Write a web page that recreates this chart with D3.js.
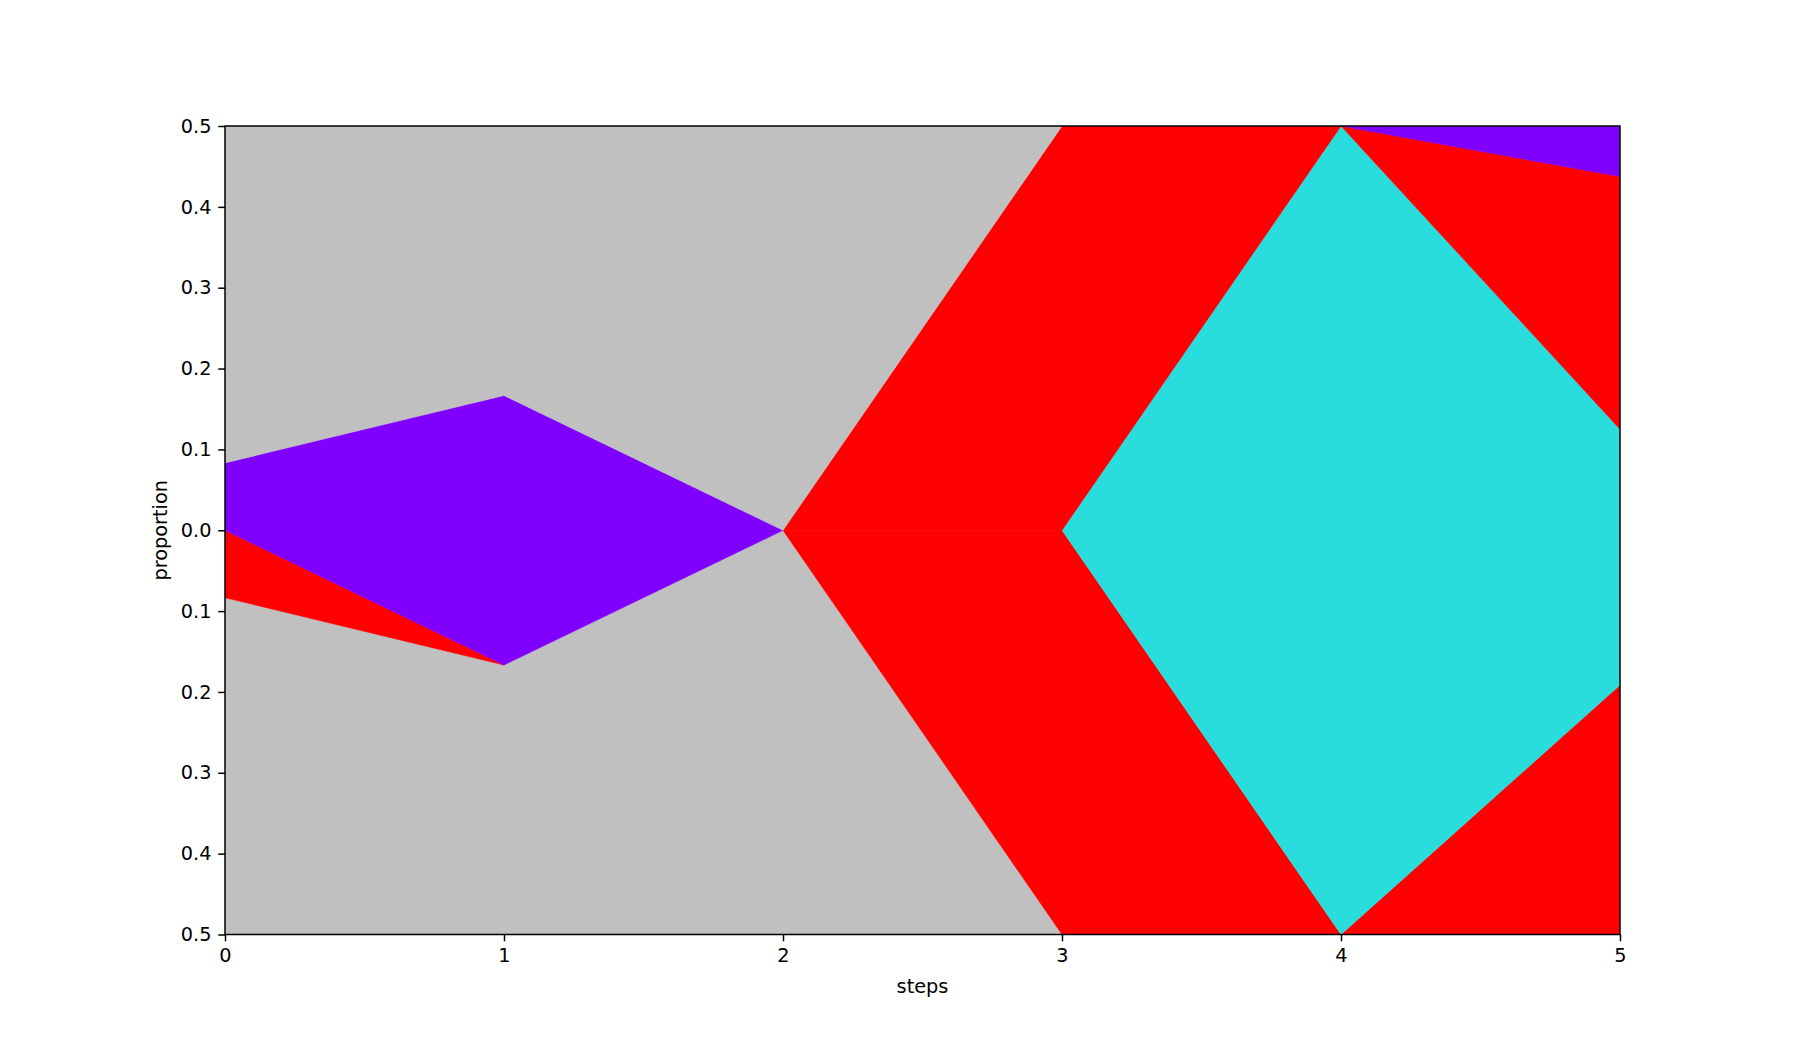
<!DOCTYPE html>
<html>
<head>
  <script src="https://d3js.org/d3.v7.min.js"></script>
  <title>proportion by step</title>
  <style>
  body { margin: 0; background: white; }
  svg text { font-family: "DejaVu Sans", sans-serif; fill: black; }
  </style>
</head>
<body>
<svg id="chart" width="1800" height="1050"></svg>
<script>
// data (stacked bottom -> top, centred on zero)
var steps = [0, 1, 2, 3, 4, 5];
var layerNames = ["greyLow", "redLow", "cyan", "redHigh", "purple", "greyHigh"];
var greyLow  = [5/12, 1/3, 0.5, 0,   0, 0];
var redLow   = [1/12, 0,   0,   0.5, 0, 0.3085];
var cyan     = [0,    0,   0,   0,   1, 0.3165];
var redHigh  = [0,    0,   0,   0.5, 0, 0.3125];
var purple   = [1/12, 1/3, 0,   0,   0, 0.0625];
var greyHigh = [5/12, 1/3, 0.5, 0,   0, 0];
var yTicks = [-0.5, -0.4, -0.3, -0.2, -0.1, 0, 0.1, 0.2, 0.3, 0.4, 0.5];

var colors = {
  greyLow: "#c0c0c0", redLow: "#ff0000", cyan: "#2adddd",
  redHigh: "#ff0000", purple: "#8000ff", greyHigh: "#c0c0c0"
};

var fontPx = "19.3px";
var tickLen = 6.75;
var lw = 1.5;

var margin = {top: 126, right: 180, bottom: 115.5, left: 225},
    width = 1800 - margin.left - margin.right,
    height = 1050 - margin.top - margin.bottom;

var rows = steps.map(function(s, i) {
  return {step: s, greyLow: greyLow[i], redLow: redLow[i], cyan: cyan[i],
          redHigh: redHigh[i], purple: purple[i], greyHigh: greyHigh[i]};
});

var series = d3.stack()
  .keys(layerNames)
  .order(d3.stackOrderNone)
  .offset(d3.stackOffsetSilhouette)(rows);

var xs = d3.scaleLinear().domain([0, 5]).range([0, width]);
var ys = d3.scaleLinear().domain([-0.5, 0.5]).range([height, 0]);

var svg = d3.select("#chart");
var g = svg.append("g")
  .attr("transform", "translate(" + margin.left + "," + margin.top + ")");

g.append("clipPath").attr("id", "clip")
  .append("rect").attr("width", width).attr("height", height);

var area = d3.area()
  .x(function(d) { return xs(d.data.step); })
  .y0(function(d) { return ys(d[0]); })
  .y1(function(d) { return ys(d[1]); });

var plot = g.append("g").attr("clip-path", "url(#clip)");

// draw each layer piece by piece, skipping pieces that are empty at both ends
series.forEach(function(s) {
  for (var i = 0; i < s.length - 1; i++) {
    var a = s[i], b = s[i + 1];
    if (a[1] - a[0] <= 0 && b[1] - b[0] <= 0) continue;
    plot.append("path")
      .attr("d", area([a, b]))
      .attr("fill", colors[s.key])
      .attr("stroke", colors[s.key])
      .attr("stroke-width", 0.6)
      .attr("stroke-linejoin", "round");
  }
});

// faint edge under the upper grey layer
var top = series[series.length - 1];
plot.append("path")
  .attr("d", d3.line()
    .x(function(d) { return xs(d.data.step); })
    .y(function(d) { return ys(d[0]); })(top))
  .attr("fill", "none")
  .attr("stroke", "rgba(90,90,90,0.55)")
  .attr("stroke-width", 1.4);

// axes
var xAxis = g.append("g")
  .attr("transform", "translate(0," + height + ")")
  .call(d3.axisBottom(xs).tickValues(steps).tickFormat(d3.format("d"))
        .tickSize(tickLen).tickPadding(tickLen));
var yAxis = g.append("g")
  .call(d3.axisLeft(ys).tickValues(yTicks)
        .tickFormat(function(d) { return Math.abs(d).toFixed(1); })
        .tickSize(tickLen).tickPadding(tickLen));

[xAxis, yAxis].forEach(function(ax) {
  ax.attr("font-size", null).attr("font-family", null);
  ax.select(".domain").remove();
  ax.selectAll(".tick line").attr("stroke", "black").attr("stroke-width", lw);
  ax.selectAll(".tick text")
    .style("font-family", "DejaVu Sans")
    .style("font-size", fontPx)
    .attr("fill", "black");
});

g.append("rect")
  .attr("width", width).attr("height", height)
  .attr("fill", "none").attr("stroke", "black").attr("stroke-width", lw);

g.append("text")
  .attr("x", width / 2).attr("y", height + 58)
  .attr("text-anchor", "middle")
  .style("font-size", fontPx)
  .text("steps");

g.append("text")
  .attr("transform", "translate(-58," + (height / 2) + ") rotate(-90)")
  .attr("text-anchor", "middle")
  .style("font-size", fontPx)
  .text("proportion");
</script>
</body>
</html>
